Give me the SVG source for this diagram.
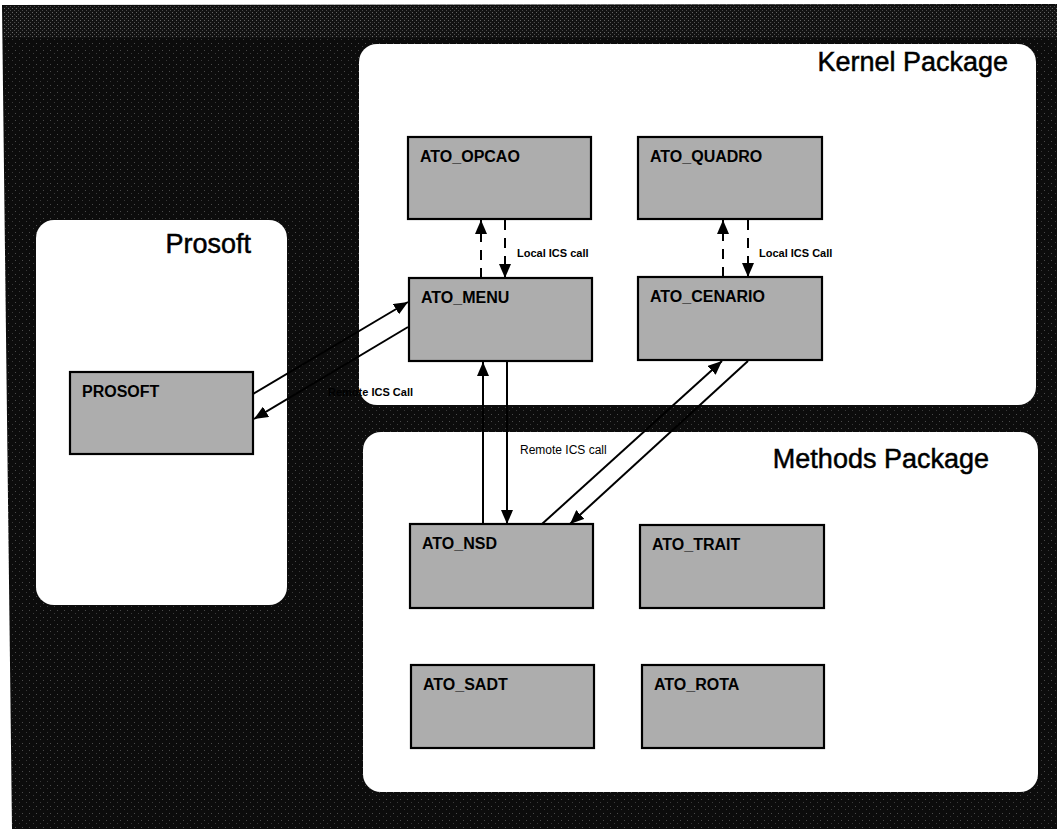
<svg xmlns="http://www.w3.org/2000/svg" width="1057" height="829" viewBox="0 0 1057 829">
<style>
.panel{fill:#ffffff;}
.ptitle{font-family:"Liberation Sans",Arial,sans-serif;font-size:27px;fill:#000;stroke:#000;stroke-width:0.5;text-anchor:end;}
.node rect{fill:#adadad;stroke:#000;stroke-width:2.2;}
.node text{font-family:"Liberation Sans",Arial,sans-serif;font-weight:bold;font-size:16px;fill:#000;}
.conn{stroke:#000;stroke-width:2;fill:none;marker-end:url(#ah);}
.dash{stroke-dasharray:10,8;}
.lbl{font-family:"Liberation Sans",Arial,sans-serif;font-weight:bold;font-size:11px;fill:#000;}
</style>
<defs>
<marker id="ah" markerUnits="userSpaceOnUse" markerWidth="14" markerHeight="12" refX="14" refY="6" orient="auto">
<path d="M0,0 L14,6 L0,12 z" fill="#000"/>
</marker>
<pattern id="noise" width="7" height="7" patternUnits="userSpaceOnUse">
<rect width="7" height="7" fill="#0c0c0c"/>
<rect x="1" y="1" width="1" height="1" fill="#4a4a4a"/>
<rect x="5" y="4" width="1" height="1" fill="#3a3a3a"/>
</pattern>
<pattern id="noise2" width="4" height="4" patternUnits="userSpaceOnUse">
<rect width="4" height="4" fill="#141414"/>
<rect x="0" y="0" width="1" height="1" fill="#7a7a7a"/>
<rect x="2" y="2" width="1" height="1" fill="#5a5a5a"/>
</pattern>
</defs>
<rect width="1057" height="829" fill="#ffffff"/>
<g id="background">
<polygon points="2,5 1057,4 1057,829 12,829" fill="url(#noise)"/>
<rect x="4" y="6" width="1053" height="32" fill="url(#noise2)" opacity="0.8"/>
</g>
<g id="kernel-package">
<rect class="panel" x="359" y="44" width="677" height="361" rx="18"/>
<text class="ptitle" x="1008" y="71">Kernel Package</text>
</g>
<g id="methods-package">
<rect class="panel" x="363" y="432" width="675" height="360" rx="18"/>
<text class="ptitle" x="989" y="468">Methods Package</text>
</g>
<g id="prosoft-package">
<rect class="panel" x="36" y="220" width="251" height="385" rx="18"/>
<text class="ptitle" x="251" y="253">Prosoft</text>
</g>
<g id="connectors">
<line class="conn dash" x1="481" y1="278" x2="481" y2="220"/>
<line class="conn dash" x1="505" y1="220" x2="505" y2="278"/>
<line class="conn dash" x1="723" y1="277" x2="723" y2="220"/>
<line class="conn dash" x1="748" y1="220" x2="748" y2="277"/>
<line class="conn" x1="253" y1="394" x2="408" y2="302"/>
<line class="conn" x1="408" y1="327" x2="254" y2="419"/>
<line class="conn" x1="483" y1="524" x2="483" y2="362"/>
<line class="conn" x1="507" y1="362" x2="507" y2="524"/>
<line class="conn" x1="542" y1="524" x2="722" y2="361"/>
<line class="conn" x1="748" y1="361" x2="570" y2="524"/>
<text class="lbl" x="517" y="257">Local ICS call</text>
<text class="lbl" x="759" y="257">Local ICS Call</text>
<text class="lbl" x="413" y="396" text-anchor="end">Remote ICS Call</text>
<text class="lbl" x="520" y="454" style="font-weight:normal;font-size:12px">Remote ICS call</text>
</g>
<g id="ATO_OPCAO" class="node"><rect x="408" y="137" width="183" height="82"/><text x="420" y="162">ATO_OPCAO</text></g>
<g id="ATO_QUADRO" class="node"><rect x="638" y="137" width="184" height="82"/><text x="650" y="162">ATO_QUADRO</text></g>
<g id="ATO_MENU" class="node"><rect x="409" y="278" width="183" height="83"/><text x="421" y="303">ATO_MENU</text></g>
<g id="ATO_CENARIO" class="node"><rect x="638" y="277" width="184" height="83"/><text x="650" y="302">ATO_CENARIO</text></g>
<g id="PROSOFT" class="node"><rect x="70" y="372" width="183" height="82"/><text x="82" y="397">PROSOFT</text></g>
<g id="ATO_NSD" class="node"><rect x="410" y="524" width="183" height="84"/><text x="422" y="549">ATO_NSD</text></g>
<g id="ATO_TRAIT" class="node"><rect x="640" y="525" width="184" height="83"/><text x="652" y="550">ATO_TRAIT</text></g>
<g id="ATO_SADT" class="node"><rect x="411" y="665" width="183" height="83"/><text x="423" y="690">ATO_SADT</text></g>
<g id="ATO_ROTA" class="node"><rect x="642" y="665" width="182" height="83"/><text x="654" y="690">ATO_ROTA</text></g>
</svg>
